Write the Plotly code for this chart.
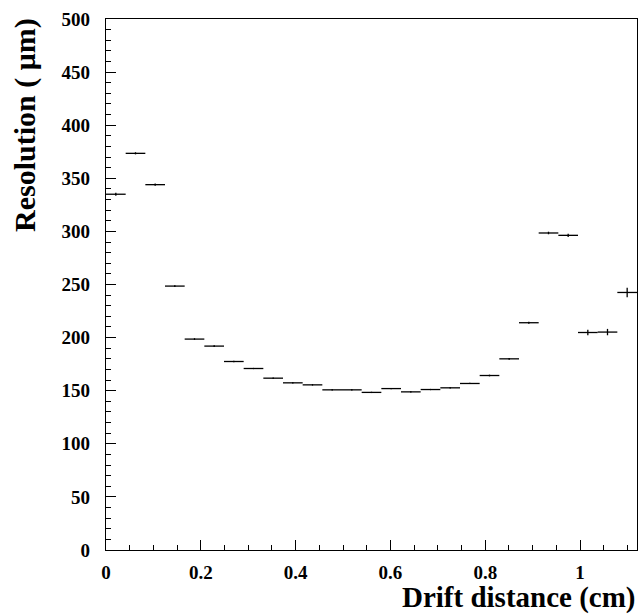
import numpy as np
import plotly.graph_objects as go

# Bin layout: 27 bins spanning 0 .. 1.12 cm
bin_lo = 0.0
bin_hi = 1.12
n_bins = 27
bin_w = (bin_hi - bin_lo) / n_bins
drift_centres = [bin_lo + (i + 0.5) * bin_w for i in range(n_bins)]

# Resolution (um) per bin
resolution = [335, 373.5, 344, 248.5, 198.6, 192, 177.5, 170.9, 161.8, 157.4,
              155.5, 150.8, 150.8, 148.4, 152, 148.9, 151.1, 152.7, 156.8, 164.3,
              180, 214, 298.5, 296.3, 204.8, 205.2, 242.5]
res_err = [1.5, 1, 1, 0.8, 0.8, 0.8, 0.6, 0.6, 0.6, 0.6,
           0.6, 0.6, 0.6, 0.6, 0.6, 0.6, 0.6, 0.6, 0.6, 0.8,
           0.8, 1, 1.2, 1.5, 2.5, 3, 4.5]
half_width = [bin_w / 2] * n_bins

x_ticks = [0, 0.2, 0.4, 0.6, 0.8, 1]
x_tick_text = ["0", "0.2", "0.4", "0.6", "0.8", "1"]
y_ticks = [0, 50, 100, 150, 200, 250, 300, 350, 400, 450, 500]

font_family = "Liberation Serif"

fig = go.Figure()
fig.add_trace(go.Scatter(
    x=drift_centres, y=resolution, mode="markers",
    marker=dict(size=1, color="black"),
    error_x=dict(type="data", array=half_width, width=0, thickness=1.3, color="black"),
    error_y=dict(type="data", array=res_err, width=0, thickness=1.3, color="black"),
    showlegend=False,
))

axis_common = dict(
    showline=True, linecolor="black", linewidth=1.3, mirror=True,
    showgrid=False, zeroline=False, ticks="inside", tickcolor="black",
    tickwidth=1.3, ticklen=10,
    tickfont=dict(family=font_family, size=19, color="black", weight="bold"),
)

fig.update_xaxes(
    range=[bin_lo, bin_hi], tickvals=x_ticks, ticktext=x_tick_text,
    minor=dict(dtick=0.05, tick0=0, ticks="inside", ticklen=5, tickcolor="black", tickwidth=1.3),
    ticklabelstandoff=5,
    **axis_common,
)
fig.update_yaxes(
    range=[0, 500], tickvals=y_ticks,
    minor=dict(dtick=10, tick0=0, ticks="inside", ticklen=5, tickcolor="black", tickwidth=1.3),
    ticklabelstandoff=11,
    **axis_common,
)

fig.add_annotation(
    text="Drift distance (cm)", xref="paper", yref="paper", x=1.0, y=0,
    xanchor="right", yanchor="middle", yshift=-47, xshift=1, showarrow=False,
    font=dict(family=font_family, size=29, color="black", weight="bold"),
)
fig.add_annotation(
    text="Resolution ( \u03bcm)", xref="paper", yref="paper", x=0, y=1.0,
    xanchor="center", yanchor="top", xshift=-81, yshift=3, textangle=-90, showarrow=False,
    font=dict(family=font_family, size=30, color="black", weight="bold"),
)

fig.update_layout(
    width=638, height=615,
    margin=dict(l=106, r=1, t=19, b=65),
    paper_bgcolor="white", plot_bgcolor="white",
)

fig.write_html(
    "out.html",
    config={"displayModeBar": False},
    post_script="document.body.style.margin='0';document.body.style.overflow='hidden';",
)
